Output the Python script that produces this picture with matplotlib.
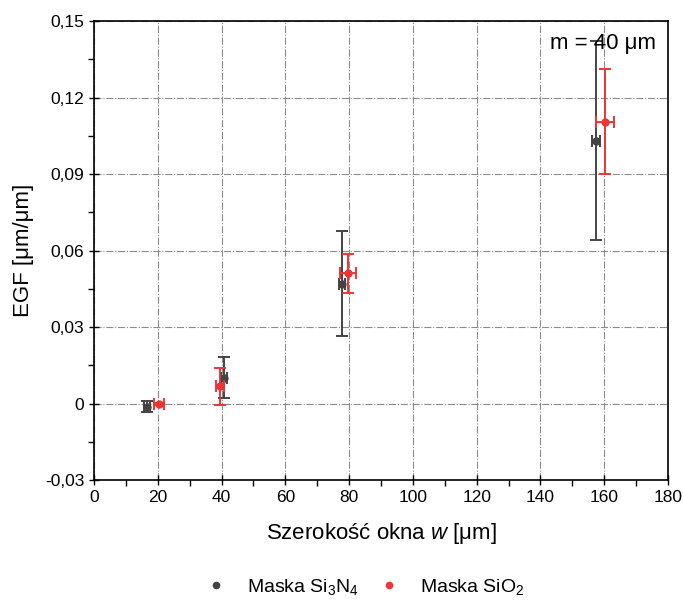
import matplotlib
matplotlib.use("Agg")
import matplotlib.pyplot as plt
from matplotlib.lines import Line2D
from matplotlib.ticker import FuncFormatter, MultipleLocator

plt.rcParams['font.family'] = ['Liberation Sans', 'DejaVu Sans']
plt.rcParams['mathtext.fontset'] = 'custom'
plt.rcParams['mathtext.rm'] = 'Liberation Sans'
plt.rcParams['mathtext.it'] = 'Liberation Sans:italic'

# Si3N4 mask
w_si3n4 = [16.7, 40.8, 77.7, 157.5]
egf_si3n4 = [-0.0012, 0.0102, 0.047, 0.103]
werr_si3n4 = [1.0, 1.0, 1.0, 1.2]
egferr_si3n4 = [0.002, 0.008, 0.0207, 0.039]

# SiO2 mask
w_sio2 = [20.4, 39.6, 79.8, 160.3]
egf_sio2 = [-0.0003, 0.0067, 0.051, 0.1105]
werr_sio2 = [1.6, 1.2, 2.5, 2.8]
egferr_sio2 = [0.0004, 0.0073, 0.0076, 0.0205]

labels = ['Maska Si$_3$N$_4$', 'Maska SiO$_2$']
col_si3n4 = '#444444'
col_sio2 = '#ee3434'

fig = plt.figure(figsize=(6.83, 6.01), dpi=100)
ax = fig.add_axes([0.1376, 0.2013, 0.8404, 0.7637])

ax.errorbar(w_si3n4, egf_si3n4, xerr=werr_si3n4, yerr=egferr_si3n4, fmt='o',
            color=col_si3n4, ecolor=col_si3n4, markersize=5, capsize=4,
            elinewidth=1.4, capthick=1.4, zorder=3)
ax.errorbar(w_sio2, egf_sio2, xerr=werr_sio2, yerr=egferr_sio2, fmt='o',
            color=col_sio2, ecolor=col_sio2, markersize=5, capsize=4,
            elinewidth=1.4, capthick=1.4, zorder=4)

ax.set_xlim(0, 180)
ax.set_ylim(-0.03, 0.15)
ax.xaxis.set_major_locator(MultipleLocator(20))
ax.xaxis.set_minor_locator(MultipleLocator(10))
ax.yaxis.set_major_locator(MultipleLocator(0.03))
ax.yaxis.set_minor_locator(MultipleLocator(0.015))


def comma_fmt(v, pos):
    if abs(v) < 1e-9:
        return '0'
    return f'{v:.2f}'.replace('.', ',')


def int_fmt(v, pos):
    return f'{v:.0f}'


ax.yaxis.set_major_formatter(FuncFormatter(comma_fmt))
ax.xaxis.set_major_formatter(FuncFormatter(int_fmt))

ax.grid(True, which='major', color='#8c8c8c', linestyle='-.', linewidth=0.8, zorder=0)
ax.set_axisbelow(True)

ax.tick_params(which='major', direction='inout', length=7, width=1.0, labelsize=12.5)
ax.tick_params(which='minor', direction='out', length=4, width=1.0)
for sp in ax.spines.values():
    sp.set_linewidth(1.2)

ax.set_xlabel('Szerokość okna $\\it{w}$ [μm]', fontsize=16, labelpad=12)
ax.set_ylabel('EGF [μm/μm]', fontsize=16, labelpad=8)

ax.text(0.98, 0.975, 'm = 40 μm', transform=ax.transAxes, ha='right', va='top',
        fontsize=16)

handles = [Line2D([], [], linestyle='none', marker='o', markersize=4.5, color=col_si3n4),
           Line2D([], [], linestyle='none', marker='o', markersize=4.5, color=col_sio2)]
ax.legend(handles, labels, loc='center', bbox_to_anchor=(0.473, -0.232), ncol=2,
          frameon=False, fontsize=14, handlelength=1.0, columnspacing=1.05,
          handletextpad=1.1)

fig.savefig('out.png', dpi=100)
